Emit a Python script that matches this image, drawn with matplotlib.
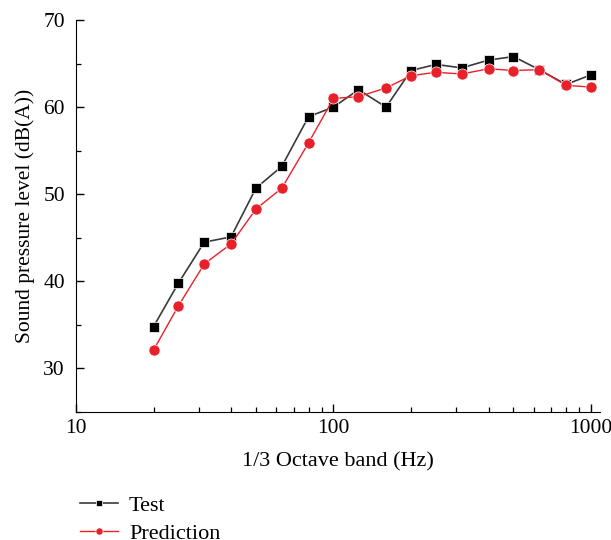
import matplotlib
matplotlib.use("Agg")
import matplotlib.pyplot as plt
from matplotlib.ticker import FixedLocator, NullFormatter, LogLocator, MultipleLocator

freq = [20, 25, 31.5, 40, 50, 63, 80, 100, 125, 160, 200, 250, 315, 400, 500, 630, 800, 1000]
test = [34.8, 39.8, 44.5, 45.1, 50.7, 53.2, 58.9, 60.0, 62.0, 60.0, 64.2, 64.9, 64.5, 65.4, 65.8, 64.3, 62.6, 63.7]
pred = [32.1, 37.2, 42.0, 44.3, 48.3, 50.7, 55.9, 61.0, 61.2, 62.2, 63.6, 64.0, 63.8, 64.4, 64.2, 64.3, 62.5, 62.3]
xticks = [10, 100, 1000]
xticklabels = ["10", "100", "1000"]
yticks = [30, 40, 50, 60, 70]

plt.rcParams['font.family'] = ['Liberation Serif', 'DejaVu Serif']

fig = plt.figure(figsize=(6.11, 5.40), dpi=100)
ax = fig.add_axes([76/611, 1-412/540, (600-76)/611, (412-20)/540])

ax.plot(freq, test, color='#3a3a3a', lw=1.2, marker='s', ms=7, mfc='black', mec='white', mew=0.5, label='Test')
ax.plot(freq, pred, color='#e8202a', lw=1.0, marker='o', ms=8, mfc='#e8202a', mec='white', mew=0.5, label='Prediction')

ax.set_xscale('log')
ax.set_xlim(10, 1084)
ax.set_ylim(25, 70)
ax.xaxis.set_major_locator(FixedLocator(xticks))
ax.set_xticklabels(xticklabels)
ax.xaxis.set_minor_locator(LogLocator(base=10, subs=range(2, 10)))
ax.xaxis.set_minor_formatter(NullFormatter())
ax.yaxis.set_major_locator(FixedLocator(yticks))
ax.yaxis.set_minor_locator(MultipleLocator(5))

for s in ['top', 'right']:
    ax.spines[s].set_visible(False)
ax.spines['left'].set_bounds(25, 70)
ax.tick_params(which='major', direction='in', length=6, width=1, labelsize=15.5, pad=5)
ax.tick_params(which='minor', direction='in', length=3.5, width=0.9)
ax.tick_params(axis='y', pad=8)

ax.set_xlabel('1/3 Octave band (Hz)', fontsize=16, labelpad=10)
ax.set_ylabel('Sound pressure level (dB(A))', fontsize=15.5, labelpad=6)

fig.legend(loc='upper left', bbox_to_anchor=(60/611, 1-475/540), frameon=False,
           fontsize=16, markerscale=0.65, handlelength=1.7, handletextpad=0.5, labelspacing=0.35)

fig.savefig('out.png', dpi=100)
